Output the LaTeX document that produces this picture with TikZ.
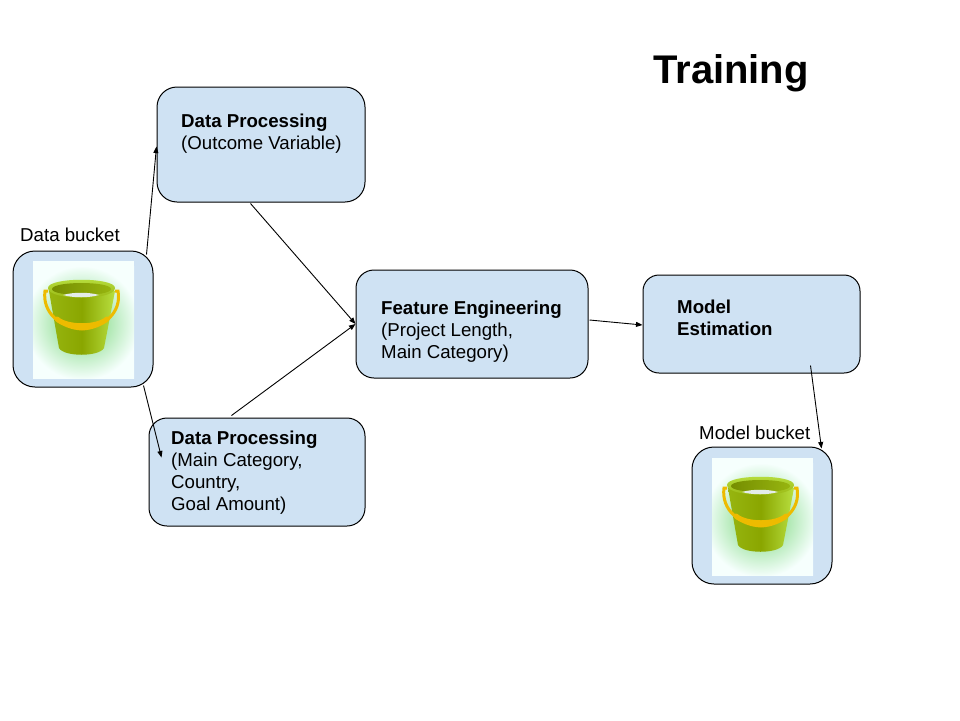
\documentclass[tikz,border=0pt]{standalone}
\usepackage{fontspec}
\setmainfont{Liberation Sans}
\usetikzlibrary{arrows.meta,calc}
\definecolor{boxblue}{HTML}{CFE2F3}
\definecolor{imgbg}{HTML}{F6FFFD}
\definecolor{glow}{HTML}{70D470}
\definecolor{bucketdark}{HTML}{8AA600}
\definecolor{bucketmid}{HTML}{97B510}
\definecolor{bucketlight}{HTML}{B8DF40}
\definecolor{handle}{HTML}{EDBB00}
\tikzset{
  x=1pt,y=-1pt,
  boxnode/.style={draw=black,fill=boxblue,line width=1pt,minimum width=#1,inner sep=0pt},
  txt/.style={font=\fontsize{18.67}{22}\selectfont,align=left,anchor=north west,inner sep=0pt},
  flow/.style={draw=black,line width=0.9pt,-{Triangle[length=6.5pt,width=5pt]}},
  bucketpic/.pic={
    \fill[imgbg] (0,0) rectangle (101,117);
    \begin{scope}
      \clip (0,0) rectangle (101,117);
      \shade[inner color=glow,outer color=imgbg] (-8,5) rectangle (106,119);
    \end{scope}
    \shade[left color=bucketmid,right color=bucketlight,middle color=bucketdark]
        (16,30) -- (82,30) -- (71,87) .. controls (66,96) and (31,96) .. (26,87) -- cycle;
    \shade[top color=bucketlight,bottom color=bucketmid]
       (15,27) .. controls (15,16) and (82,16) .. (82,27)
       .. controls (82,40) and (15,40) .. (15,27) -- cycle;
    \shade[left color=bucketdark!85!black,right color=bucketmid]
       (19,28) .. controls (20,20) and (77,20) .. (78,28)
       .. controls (78,36) and (19,36) .. (19,28) -- cycle;
    \fill[imgbg!85!gray] (30,34) .. controls (40,31) and (56,31) .. (66,34)
       .. controls (56,37) and (40,37) .. (30,34) -- cycle;
    \draw[handle,line width=3pt]
      (15,30) -- (12,30) .. controls (9,52) and (28,67) .. (49,68)
      .. controls (70,67) and (89,52) .. (85,30) -- (82,30);
    \draw[handle,line width=5pt,line cap=round]
      (24,58) .. controls (34,67) and (64,67) .. (74,58);
  }
}
\begin{document}
\begin{tikzpicture}
\useasboundingbox (0,0) rectangle (960,720);
\fill[white] (0,0) rectangle (960,720);

\node[boxnode=208pt,minimum height=115pt,rounded corners=20pt] (dp1) at (261,144.5) {};
\node[boxnode=216pt,minimum height=108pt,rounded corners=18pt] (dp2) at (257,472) {};
\node[boxnode=232pt,minimum height=108pt,rounded corners=18pt] (fe) at (472,324) {};
\node[boxnode=217pt,minimum height=98pt,rounded corners=16pt] (me) at (751.5,324) {};
\node[boxnode=140pt,minimum height=136pt,rounded corners=22pt] (dbuck) at (83,319) {};
\node[boxnode=140pt,minimum height=137pt,rounded corners=22pt] (mbuck) at (762,515.5) {};

\pic at (33,261) {bucketpic};
\pic at (712,458) {bucketpic};

\node[txt] (title) at (653,54) {\fontsize{40}{46}\selectfont\bfseries Training};
\node[txt] (dblabel) at (20,228) {Data bucket};
\node[txt] (mblabel) at (699,425.5) {Model bucket};
\node[txt] (dp1text) at (181,114) {\bfseries Data Processing\\(Outcome Variable)};
\node[txt] (dp2text) at (171,431) {\bfseries Data Processing\\(Main Category,\\Country,\\Goal Amount)};
\node[txt] (fetext) at (381,301) {\bfseries Feature Engineering\\(Project Length,\\Main Category)};
\node[txt] (metext) at (677,300) {\bfseries Model\\\bfseries Estimation};

\draw[flow] ($(dbuck.north east)+(-7,4)$) -- ($(dp1.west)+(0,2)$);
\draw[flow] ($(dbuck.south east)+(-10,-2)$) -- ($(dp2.north west)+(13,40)$);
\draw[flow] ($(dp1.south west)+(94,1)$) -- ($(fe.west)+(0,0)$);
\draw[flow] ($(dp2.north west)+(83,-2)$) -- ($(fe.west)+(0,0)$);
\draw[flow] ($(fe.east)+(1,-4)$) -- ($(me.west)+(0,1)$);
\draw[flow] ($(me.south east)+(-50,-8)$) -- ($(mbuck.north east)+(-11,2)$);
\end{tikzpicture}
\end{document}
